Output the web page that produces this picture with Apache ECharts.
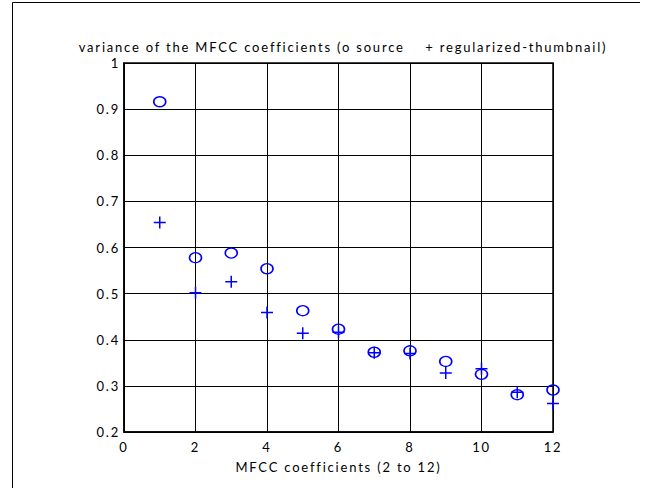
<!DOCTYPE html>
<html>
<head>
<meta charset="utf-8">
<script src="https://cdn.jsdelivr.net/npm/echarts@6/dist/echarts.min.js"></script>
<style>
  html, body { margin: 0; padding: 0; background: #fff; }
  #chart { width: 647px; height: 488px; }
  /* the figure's lettering is loosely tracked */
  #chart text { letter-spacing: 1.8px; }
</style>
</head>
<body>
<div id="chart"></div>
<script>
// MFCC coefficient index (2 to 12 plotted at positions 1..12)
const coeffIndex = [1, 2, 3, 4, 5, 6, 7, 8, 9, 10, 11, 12];
// variance of the source coefficients (o)
const sourceVariance = [0.916, 0.578, 0.588, 0.554, 0.463, 0.423, 0.373, 0.376, 0.353, 0.325, 0.281, 0.291];
// variance of the regularized-thumbnail coefficients (+)
const thumbVariance = [0.654, 0.502, 0.526, 0.459, 0.414, 0.416, 0.372, 0.370, 0.328, 0.337, 0.286, 0.262];

const titleText = 'variance of the MFCC coefficients (o source    + regularized-thumbnail)';
const xName = 'MFCC coefficients (2 to 12)';

const FONT = 'Lato, "Open Sans", sans-serif';
const BLUE = '#0000ff';

const chart = echarts.init(document.getElementById('chart'), null, { renderer: 'svg' });

const pairs = (ys) => coeffIndex.map((x, i) => [x, ys[i]]);

chart.setOption({
  backgroundColor: '#ffffff',
  animation: false,
  title: {
    text: titleText,
    left: 338,
    textAlign: 'center',
    top: 35,
    textStyle: { fontFamily: FONT, fontSize: 13, fontWeight: 'normal', color: '#000' }
  },
  graphic: [{
    type: 'polyline',
    shape: { points: [[12.5, 488], [12.5, 2.5], [640, 2.5]] },
    style: { stroke: '#000', lineWidth: 1, fill: 'none' },
    silent: true
  }],
  grid: {
    left: 124, right: 94, top: 63, bottom: 56,
    show: true, borderColor: '#000', borderWidth: 1.5, backgroundColor: 'transparent'
  },
  xAxis: {
    type: 'value', min: 0, max: 12, interval: 2,
    name: xName, nameLocation: 'middle', nameGap: 28,
    nameTextStyle: { fontFamily: FONT, fontSize: 13, color: '#000' },
    axisLine: { show: true, lineStyle: { color: '#000', width: 1.5 } },
    axisTick: { show: true, inside: true, length: 4, lineStyle: { color: '#000' } },
    axisLabel: { fontFamily: FONT, fontSize: 13, color: '#000', margin: 8 },
    splitLine: { show: true, lineStyle: { color: '#000', width: 1 } }
  },
  yAxis: {
    type: 'value', min: 0.2, max: 1, interval: 0.1,
    axisLine: { show: true, lineStyle: { color: '#000', width: 1.5 } },
    axisTick: { show: true, inside: true, length: 4, lineStyle: { color: '#000' } },
    axisLabel: {
      fontFamily: FONT, fontSize: 13, color: '#000', margin: 4,
      formatter: (v) => (Math.abs(v - 1) < 1e-9 ? '1' : v.toFixed(1))
    },
    splitLine: { show: true, lineStyle: { color: '#000', width: 1 } }
  },
  series: [
    {
      name: 'source',
      type: 'scatter',
      data: pairs(sourceVariance),
      symbol: 'circle',
      symbolSize: [12, 10],
      itemStyle: { color: 'rgba(0,0,0,0)', borderColor: BLUE, borderWidth: 1.5, opacity: 1 },
      z: 3
    },
    {
      name: 'regularized-thumbnail',
      type: 'scatter',
      data: pairs(thumbVariance),
      symbol: 'path://M0,5L10,5M5,0L5,10',
      symbolSize: [12, 12],
      itemStyle: { color: 'rgba(0,0,0,0)', borderColor: BLUE, borderWidth: 1.5, opacity: 1 },
      z: 3
    }
  ]
});
</script>
</body>
</html>
